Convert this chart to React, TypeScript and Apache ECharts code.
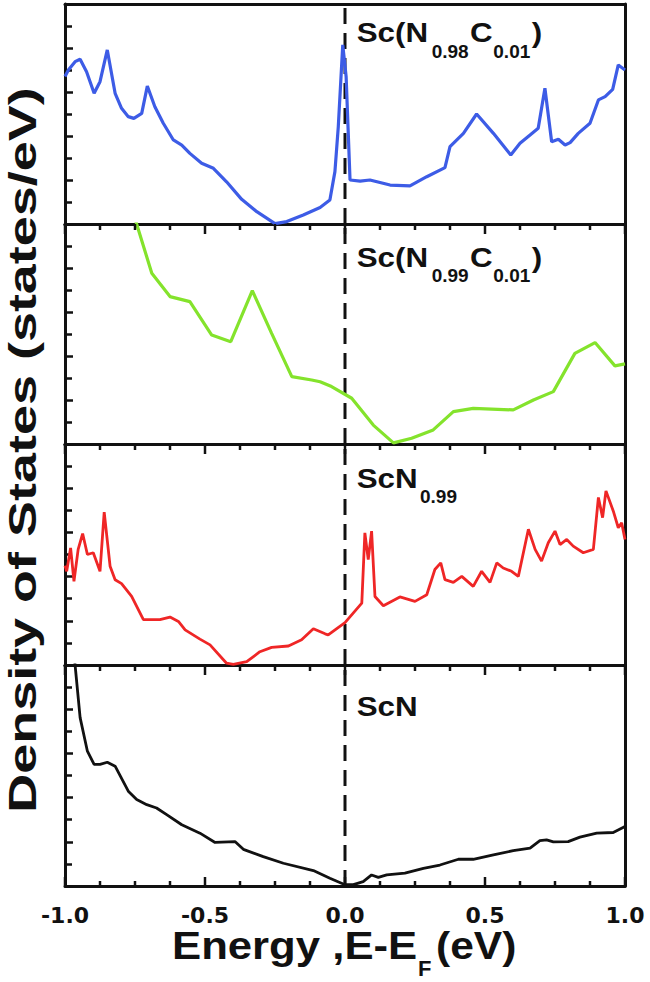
import React, { useEffect, useRef } from "react";
import * as echarts from "echarts";

// Energy axis (eV) tick values
const energyTicks = [-1.0, -0.5, 0.0, 0.5, 1.0];
// Energy axis minor + major tick positions (eV)
const energyTickMarks = [
  -1.0, -0.875, -0.75, -0.625, -0.5, -0.375, -0.25, -0.125, 0.0,
  0.125, 0.25, 0.375, 0.5, 0.625, 0.75, 0.875, 1.0,
];
// Fermi level (eV)
const fermiLevel = 0;
// DOS axis range (arbitrary units)
const dosRange = [0, 10];

// Panel names
const panelNames = ["Sc(N0.98C0.01)", "Sc(N0.99C0.01)", "ScN0.99", "ScN"];

// Sc(N0.98C0.01) DOS [E, DOS]
const dosScN098C001: number[][] = [
  [-1.0, 6.7], [-0.988, 7.0], [-0.964, 7.38], [-0.946, 7.49], [-0.923, 6.92], [-0.896, 5.94],
  [-0.875, 6.47], [-0.849, 7.91], [-0.821, 5.94], [-0.798, 5.26], [-0.774, 4.88], [-0.754, 4.8],
  [-0.726, 5.03], [-0.706, 6.27], [-0.679, 5.33], [-0.649, 4.58], [-0.613, 3.82], [-0.583, 3.59],
  [-0.554, 3.21], [-0.512, 2.76], [-0.47, 2.53], [-0.423, 1.92], [-0.369, 1.12], [-0.315, 0.56],
  [-0.25, 0.02], [-0.208, 0.11], [-0.149, 0.41], [-0.089, 0.75], [-0.054, 1.09], [-0.036, 2.38],
  [-0.024, 4.42], [-0.008, 8.14], [0.004, 6.7], [0.018, 2.0], [0.054, 1.95], [0.089, 2.0],
  [0.161, 1.77], [0.232, 1.73], [0.292, 2.15], [0.357, 2.56], [0.375, 3.52], [0.423, 4.12],
  [0.47, 5.0], [0.53, 4.12], [0.592, 3.14], [0.625, 3.67], [0.661, 4.05], [0.69, 4.35],
  [0.714, 6.17], [0.738, 3.74], [0.762, 3.85], [0.786, 3.59], [0.804, 3.7], [0.833, 4.12],
  [0.875, 4.58], [0.905, 5.64], [0.929, 5.79], [0.956, 6.12], [0.976, 7.23], [1.0, 7.0],
];

// Sc(N0.99C0.01) DOS
const dosScN099C001: number[][] = [
  [-0.755, 10.45], [-0.69, 7.76], [-0.625, 6.7], [-0.554, 6.47], [-0.476, 4.95], [-0.408, 4.65],
  [-0.331, 6.97], [-0.262, 5.03], [-0.19, 3.06], [-0.119, 2.91], [-0.089, 2.83], [-0.048, 2.61],
  [0.024, 2.08], [0.101, 0.86], [0.173, 0.05], [0.238, 0.26], [0.315, 0.64], [0.387, 1.47],
  [0.458, 1.62], [0.601, 1.55], [0.673, 2.0], [0.744, 2.38], [0.821, 4.12], [0.893, 4.61],
  [0.964, 3.55], [1.0, 3.64],
];

// ScN0.99 DOS
const dosScN099: number[][] = [
  [-1.0, 4.5], [-0.994, 4.24], [-0.98, 5.3], [-0.968, 3.79], [-0.953, 5.23], [-0.937, 5.95],
  [-0.92, 5.0], [-0.899, 5.08], [-0.875, 4.24], [-0.86, 6.92], [-0.839, 4.47], [-0.821, 3.86],
  [-0.798, 3.68], [-0.762, 3.1], [-0.72, 2.05], [-0.661, 2.05], [-0.625, 2.17], [-0.595, 1.97],
  [-0.571, 1.59], [-0.518, 1.17], [-0.482, 0.91], [-0.423, 0.08], [-0.399, 0.03], [-0.351, 0.15],
  [-0.304, 0.6], [-0.262, 0.8], [-0.202, 0.86], [-0.155, 1.14], [-0.113, 1.64], [-0.071, 1.41],
  [-0.06, 1.36], [0.0, 1.92], [0.06, 2.8], [0.071, 5.98], [0.083, 4.77], [0.095, 6.06],
  [0.107, 3.1], [0.137, 2.68], [0.196, 3.08], [0.25, 2.88], [0.292, 3.18], [0.321, 4.32],
  [0.342, 4.62], [0.357, 3.86], [0.387, 3.74], [0.417, 4.01], [0.458, 3.56], [0.488, 4.24],
  [0.518, 3.74], [0.542, 4.62], [0.565, 4.39], [0.595, 4.24], [0.619, 4.01], [0.655, 6.14],
  [0.679, 5.23], [0.702, 4.7], [0.726, 5.53], [0.75, 6.06], [0.768, 5.45], [0.792, 5.68],
  [0.815, 5.38], [0.851, 5.08], [0.887, 5.23], [0.905, 7.58], [0.92, 6.67], [0.932, 7.88],
  [0.958, 6.97], [0.976, 6.21], [0.988, 6.44], [1.0, 5.68],
];

// ScN DOS
const dosScN: number[][] = [
  [-0.968, 10.6], [-0.964, 10.0], [-0.946, 7.62], [-0.92, 6.1], [-0.896, 5.5], [-0.875, 5.5],
  [-0.849, 5.6], [-0.821, 5.42], [-0.774, 4.29], [-0.744, 3.91], [-0.708, 3.68], [-0.673, 3.53],
  [-0.637, 3.23], [-0.583, 2.77], [-0.518, 2.39], [-0.464, 1.97], [-0.393, 2.01], [-0.363, 1.66],
  [-0.292, 1.33], [-0.22, 1.03], [-0.113, 0.7], [-0.054, 0.35], [0.0, 0.06], [0.03, 0.06],
  [0.065, 0.2], [0.095, 0.5], [0.119, 0.39], [0.149, 0.5], [0.214, 0.58], [0.28, 0.8],
  [0.339, 0.95], [0.405, 1.21], [0.458, 1.21], [0.53, 1.41], [0.601, 1.6], [0.661, 1.71],
  [0.696, 2.05], [0.72, 2.09], [0.744, 2.0], [0.797, 2.01], [0.839, 2.21], [0.899, 2.39],
  [0.958, 2.42], [1.0, 2.69],
];

const panelData = [dosScN098C001, dosScN099C001, dosScN099, dosScN];
const panelColors = ["#3d5ce6", "#84e32c", "#ef2626", "#111111"];

const FONT = "'Liberation Sans', Arial, Helvetica, sans-serif";

export default function App() {
  const ref = useRef<HTMLDivElement>(null);

  useEffect(() => {
    if (!ref.current) return;
    const chart = echarts.init(ref.current, undefined, { renderer: "svg" });

    const tops = [4, 224, 444, 665];
    const heights = [220, 220, 221, 221];
    const n = tops.length;
    const border = { show: true, onZero: false, lineStyle: { color: "#111", width: 3 } };

    const grid = tops.map((t, i) => ({ left: 65, width: 560, top: t, height: heights[i] }));

    const xMain = tops.map((_, i) => {
      const last = i === n - 1;
      return {
        type: "value",
        gridIndex: i,
        position: "bottom",
        min: energyTicks[0],
        max: energyTicks[energyTicks.length - 1],
        interval: 0.5,
        axisLine: border,
        splitLine: { show: false },
        axisTick: { show: false },
        minorTick: { show: false },
        axisLabel: {
          show: last,
          margin: 18,
          fontSize: 22,
          fontWeight: "bold",
          fontFamily: "'DejaVu Sans', sans-serif",
          color: "#111",
          formatter: (v: number) => v.toFixed(1),
        },
      };
    });
    const xTop = tops.map((_, i) => ({
      type: "value",
      gridIndex: i,
      position: "top",
      min: energyTicks[0],
      max: energyTicks[energyTicks.length - 1],
      interval: 0.5,
      axisLine: border,
      splitLine: { show: false },
      axisTick: { show: false },
      axisLabel: { show: false },
    }));

    const yMain = tops.map((_, i) => ({
      type: "value",
      gridIndex: i,
      position: "left",
      min: dosRange[0],
      max: dosRange[1],
      interval: 2,
      axisLine: border,
      splitLine: { show: false },
      axisLabel: { show: false },
      axisTick: { show: true, inside: true, length: 8, lineStyle: { color: "#111", width: 2.5 } },
      minorTick: { show: true, splitNumber: 2, length: 7, lineStyle: { color: "#111", width: 2.5 } },
    }));
    const yRight = tops.map((_, i) => ({
      type: "value",
      gridIndex: i,
      position: "right",
      min: dosRange[0],
      max: dosRange[1],
      interval: 2,
      axisLine: border,
      splitLine: { show: false },
      axisLabel: { show: false },
      axisTick: { show: false },
    }));

    const dosSeries = panelData.map((d, i) => ({
      name: panelNames[i],
      type: "line",
      xAxisIndex: i,
      yAxisIndex: i,
      data: d,
      showSymbol: false,
      symbol: "none",
      lineStyle: { color: panelColors[i], width: i < 2 ? 3.2 : 2.8 },
    }));

    const fermiSeries = tops.map((_, i) => ({
      name: "E_F " + (i + 1),
      type: "line",
      xAxisIndex: i,
      yAxisIndex: i,
      data: [
        [fermiLevel, dosRange[0]],
        [fermiLevel, dosRange[1]],
      ],
      showSymbol: false,
      symbol: "none",
      silent: true,
      lineStyle: { color: "#111", type: [16, 9], width: 3 },
    }));

    const txt = (text: string, x: number, y: number, size: number, extra: any = {}) => ({
      type: "text",
      x,
      y,
      z: 10,
      ...extra,
      style: {
        text,
        fontSize: size,
        fontWeight: "bold",
        fontFamily: FONT,
        fill: "#111",
        align: "left",
        verticalAlign: "middle",
      },
    });

    const W = { scaleX: 1.12 };
    const textGraphic: any[] = [
      // Panel 1 label
      txt("Sc(N", 356.7, 31.7, 28, W),
      txt("0.98", 431.7, 51, 19),
      txt("C", 470, 31.7, 28, W),
      txt("0.01", 493.3, 51, 19),
      txt(")", 531.7, 31.7, 28, W),
      // Panel 2 label
      txt("Sc(N", 356.7, 256.7, 28, W),
      txt("0.99", 431.7, 275.5, 19),
      txt("C", 470, 256.7, 28, W),
      txt("0.01", 493.3, 275.5, 19),
      txt(")", 531.7, 256.7, 28, W),
      // Panel 3 label
      txt("ScN", 356.7, 478.3, 28, W),
      txt("0.99", 420, 496.5, 19),
      // Panel 4 label
      txt("ScN", 356.7, 706, 28, W),
      // X title
      txt("Energy ,E-E", 172, 946, 38, { scaleX: 1.15 }),
      txt("F", 418, 968, 22),
      txt("(eV)", 436, 946, 38, { scaleX: 1.12 }),
      // Y title
      {
        type: "text",
        x: 22.5,
        y: 450,
        rotation: Math.PI / 2,
        scaleX: 1.42,
        z: 10,
        style: {
          text: "Density of States (states/eV)",
          fontSize: 38,
          fontWeight: "bold",
          fontFamily: FONT,
          fill: "#111",
          align: "center",
          verticalAlign: "middle",
        },
      },
    ];

    chart.setOption({
      animation: false,
      grid,
      xAxis: [...xMain, ...xTop],
      yAxis: [...yMain, ...yRight],
      series: [...fermiSeries, ...dosSeries],
      graphic: textGraphic,
    });

    // energy-axis tick marks, positioned through each panel's axis scales
    const tickLines: any[] = [];
    for (let i = 0; i < n; i++) {
      for (const e of energyTickMarks) {
        const major = Math.abs(e * 2 - Math.round(e * 2)) < 1e-6;
        const topPt = chart.convertToPixel({ xAxisIndex: i, yAxisIndex: i } as any, [e, dosRange[1]]) as number[];
        const botPt = chart.convertToPixel({ xAxisIndex: i, yAxisIndex: i } as any, [e, dosRange[0]]) as number[];
        if (!topPt || !botPt) continue;
        if (i > 0) {
          const len = major ? 10 : 6;
          tickLines.push({
            type: "line",
            silent: true,
            z: 5,
            shape: { x1: topPt[0], y1: topPt[1], x2: topPt[0], y2: topPt[1] + len },
            style: { stroke: "#111", lineWidth: 2.5 },
          });
        }
        if (i === n - 1) {
          const len = major ? 9 : 5;
          tickLines.push({
            type: "line",
            silent: true,
            z: 5,
            shape: { x1: botPt[0], y1: botPt[1], x2: botPt[0], y2: botPt[1] - len },
            style: { stroke: "#111", lineWidth: 2.5 },
          });
        }
      }
    }
    chart.setOption({ graphic: [...textGraphic, ...tickLines] });

    return () => chart.dispose();
  }, []);

  return (
    <div
      ref={ref}
      style={{ position: "fixed", left: 0, top: 0, width: 650, height: 982, background: "#fff" }}
    />
  );
}
